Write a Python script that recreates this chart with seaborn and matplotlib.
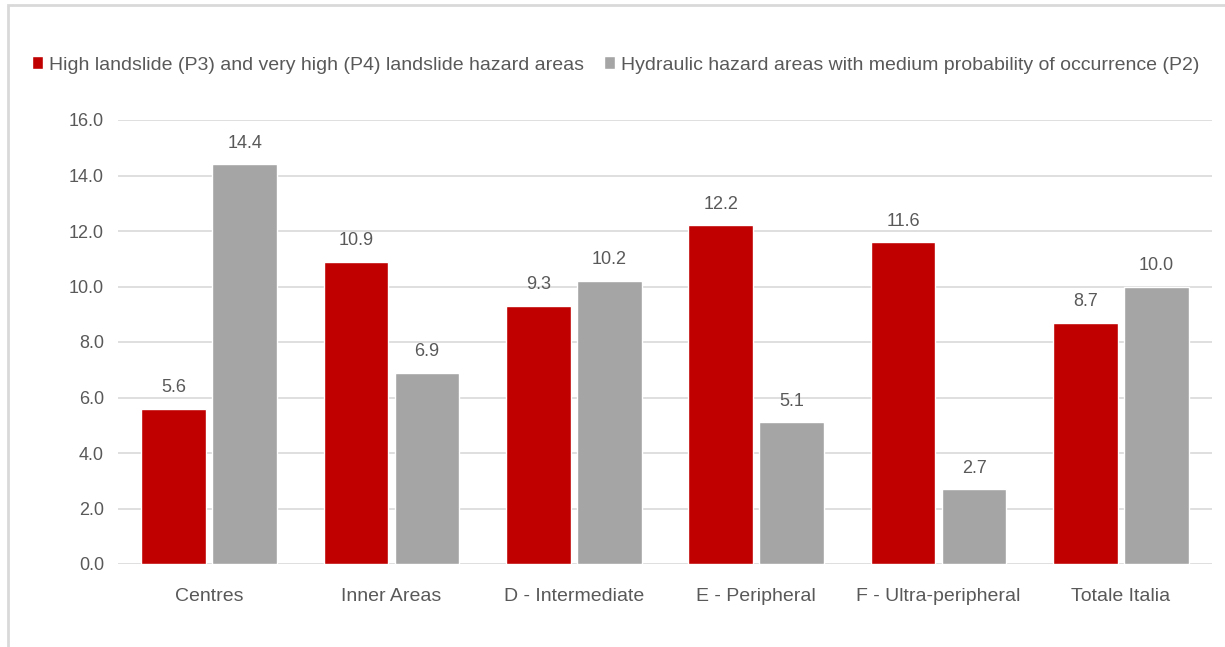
import matplotlib
matplotlib.use("Agg")
import matplotlib.pyplot as plt
from matplotlib import font_manager
from matplotlib.patches import Rectangle
import seaborn as sns
import pandas as pd

categories = ["Centres", "Inner Areas", "D - Intermediate", "E - Peripheral",
              "F - Ultra-peripheral", "Totale Italia"]
series_names = ["High landslide (P3) and very high (P4) landslide hazard areas",
                "Hydraulic hazard areas with medium probability of occurrence (P2)"]
landslide = [5.6, 10.9, 9.3, 12.2, 11.6, 8.7]
hydraulic = [14.4, 6.9, 10.2, 5.1, 2.7, 10.0]
y_ticks = [0, 2, 4, 6, 8, 10, 12, 14, 16]

df = pd.DataFrame({
    "category": categories * 2,
    "series": [series_names[0]] * len(categories) + [series_names[1]] * len(categories),
    "value": landslide + hydraulic,
})

sns.set_theme(style="white")
names = {f.name for f in font_manager.fontManager.ttflist}
family = "Liberation Sans Narrow" if "Liberation Sans Narrow" in names else "Liberation Sans"
plt.rcParams["font.family"] = [family, "DejaVu Sans"]

text_color = "#595959"
grid_color = "#d9d9d9"
colors = ["#c00000", "#a5a5a5"]

fig = plt.figure(figsize=(12.25, 6.47), dpi=100)
ax = fig.add_axes([118 / 1225, 1 - 564 / 647, (1212 - 118) / 1225, (564 - 120) / 647])

sns.barplot(data=df, x="category", y="value", hue="series", palette=colors,
            width=0.78, gap=0.09, saturation=1, ax=ax, legend=True)

ax.set_ylim(0, 16)
ax.set_yticks(y_ticks)
ax.set_yticklabels([f"{t:.1f}" for t in y_ticks], fontsize=13, color=text_color)
ax.set_xticklabels(categories, fontsize=14, color=text_color)
ax.tick_params(axis="y", length=0, pad=10)
ax.tick_params(axis="x", length=0, pad=17)
ax.yaxis.grid(True, color=grid_color, linewidth=1.2)
ax.set_axisbelow(True)
for s in ax.spines.values():
    s.set_visible(False)
ax.set_xlabel("")
ax.set_ylabel("")
ax.set_xlim(-0.5, len(categories) - 0.5)

for container in ax.containers:
    ax.bar_label(container, fmt="%.1f", padding=9, fontsize=13, color=text_color)

handles, labels = ax.get_legend_handles_labels()
ax.legend_.remove()
fig.legend(handles, labels, loc="center left", bbox_to_anchor=(24 / 1225, 1 - 65 / 647),
           ncol=2, frameon=False, fontsize=14, labelcolor=text_color,
           handlelength=0.6, handleheight=0.6, handletextpad=0.3, columnspacing=1.0,
           borderaxespad=0)

# light frame around the chart area
fig.patches.append(Rectangle((8 / 1225, -0.1), 1.2, 1 - 5 / 647 + 0.1,
                             transform=fig.transFigure, fill=False,
                             edgecolor="#d9d9d9", linewidth=2))

fig.savefig("out.png", dpi=100, facecolor="white")
